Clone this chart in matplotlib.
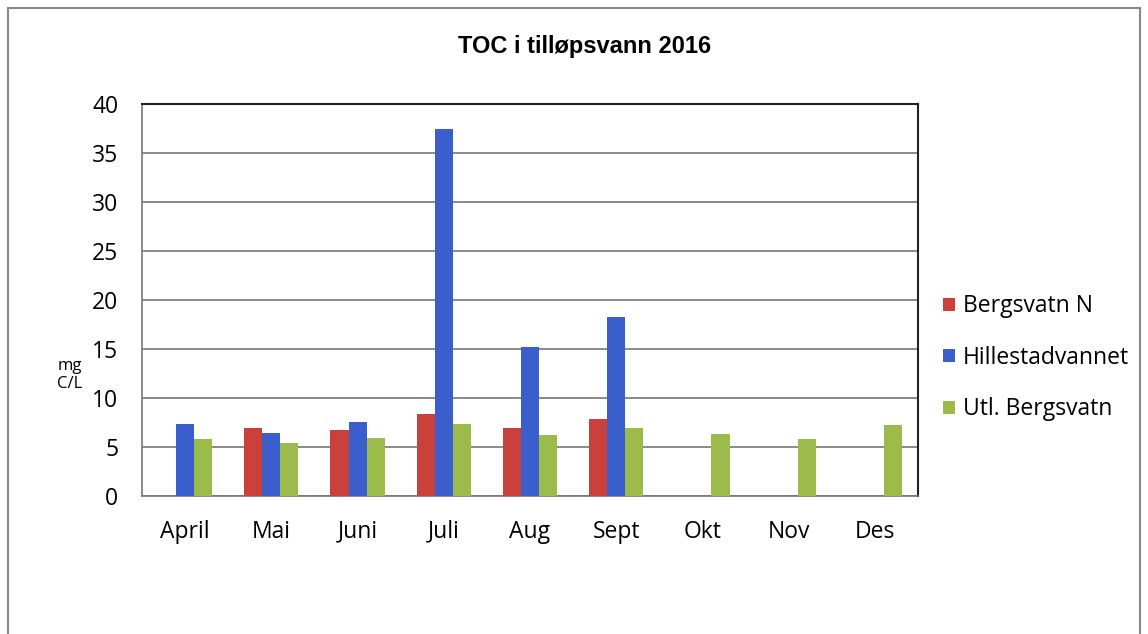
import numpy as np
import matplotlib
matplotlib.use("Agg")
import matplotlib.pyplot as plt
from matplotlib.patches import Rectangle

# %% data
months = ["April", "Mai", "Juni", "Juli", "Aug", "Sept", "Okt", "Nov", "Des"]
bergsvatn_n = [np.nan, 6.9, 6.7, 8.4, 6.9, 7.85, np.nan, np.nan, np.nan]
hillestad = [7.3, 6.4, 7.6, 37.4, 15.2, 18.3, np.nan, np.nan, np.nan]
utl_bergsvatn = [5.8, 5.4, 5.95, 7.35, 6.2, 6.9, 6.3, 5.8, 7.25]
series_names = ["Bergsvatn N", "Hillestadvannet", "Utl. Bergsvatn"]
yticks = [0, 5, 10, 15, 20, 25, 30, 35, 40]

colors = ["#c9413a", "#3a5fcd", "#9bbb4a"]

# %% plot
W, H = 1148, 634
fig = plt.figure(figsize=(W / 100, H / 100), dpi=100)
ax = fig.add_axes([142 / W, 1 - 496 / H, (918 - 142) / W, (496 - 104) / H])

x = np.arange(len(months))
bw = 0.21
for i, (vals, name) in enumerate(zip([bergsvatn_n, hillestad, utl_bergsvatn], series_names)):
    ax.bar(x + (i - 1) * bw, vals, width=bw, color=colors[i], label=name, zorder=3)

ax.set_xlim(-0.5, len(months) - 0.5)
ax.set_ylim(0, 40)
ax.set_yticks(yticks)
ax.set_xticks(x)
ax.set_xticklabels(months)
ax.tick_params(axis="both", length=0, labelsize=16.5)
ax.tick_params(axis="x", pad=17)
ax.tick_params(axis="y", pad=17)
for lab in ax.get_xticklabels() + ax.get_yticklabels():
    lab.set_fontfamily("Open Sans")

ax.grid(axis="y", color="#777777", linewidth=1.2, zorder=0)
for s in ["top", "right"]:
    ax.spines[s].set_color("#222222")
    ax.spines[s].set_linewidth(1.5)
for s in ["left", "bottom"]:
    ax.spines[s].set_color("#777777")
    ax.spines[s].set_linewidth(1.2)

fig.text(70 / W, 1 - 375 / H, "mg\nC/L", ha="center", va="center",
         fontsize=12, fontfamily="Open Sans", linespacing=1.15)
fig.text(585 / W, 1 - 46 / H, "TOC i tilløpsvann 2016", ha="center", va="center",
         fontsize=17, fontweight="bold", fontfamily="Liberation Sans")

leg = fig.legend(loc="upper left", bbox_to_anchor=(934 / W, 1 - 285 / H),
                 frameon=False, handlelength=0.5, handleheight=0.5,
                 handletextpad=0.35, labelspacing=1.2, borderaxespad=0,
                 prop={"family": "Open Sans", "size": 16.5})

# outer frame of the scanned chart
fig.patches.append(Rectangle((8 / W, -0.05), (1140 - 8) / W, 1 - 8 / H + 0.05,
                             transform=fig.transFigure, fill=False,
                             edgecolor="#888888", linewidth=1.5))

fig.savefig("out.png", dpi=100)
